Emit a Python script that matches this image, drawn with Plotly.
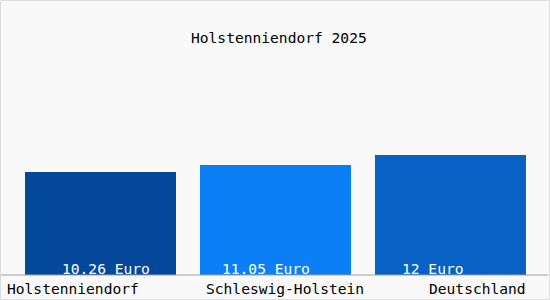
import plotly.graph_objects as go

# ---- data ----
categories = ["Holstenniendorf", "Schleswig-Holstein", "Deutschland"]
values = [10.26, 11.05, 12.0]
value_labels = ["10.26 Euro", "11.05 Euro", "12 Euro"]
title_text = "Holstenniendorf 2025"
bar_colors = ["#03489a", "#0b7ff5", "#0862c6"]

W, H = 550, 300
FONT = "DejaVu Sans Mono"
FS = 14.6

# pixel-based layout helpers
x_center0 = 100.5   # px centre of first bar
slot = 175.0        # px between bars
base_px = 275.0     # px y of value 0
px_per_unit = 10.0

def xdata(px):
    return (px - x_center0) / slot

def ydata(py):
    return (base_px - py) / px_per_unit

xs = list(range(len(categories)))

fig = go.Figure()
fig.add_trace(go.Bar(
    x=xs, y=values, width=151 / slot,
    marker=dict(color=bar_colors, line=dict(width=0)),
    hoverinfo="skip", showlegend=False,
))

ann = []
# title
ann.append(dict(x=279 / W, xref="paper", y=ydata(37), yref="y", text=title_text,
                showarrow=False, xanchor="center", yanchor="middle",
                font=dict(family=FONT, size=FS, color="#000000")))
# value labels inside bars (left edge offset in px from bar centre)
label_shift_px = [-40.5, -55.5, -50.5]
for i, t in enumerate(value_labels):
    ann.append(dict(x=i + label_shift_px[i] / slot, xref="x", y=ydata(268), yref="y",
                    text=t, showarrow=False, xanchor="left", yanchor="middle",
                    font=dict(family=FONT, size=FS, color="#ffffff")))
# category labels
cat_pos = [(5, "left"), (204, "left"), (528, "right")]
for (px, anchor), c in zip(cat_pos, categories):
    ann.append(dict(x=px / W, xref="paper", y=ydata(288), yref="y", text=c,
                    showarrow=False, xanchor=anchor, yanchor="middle",
                    font=dict(family=FONT, size=FS, color="#000000")))

shapes = [
    dict(type="line", xref="paper", yref="y", x0=0, x1=548 / W, y0=0, y1=0,
         line=dict(color="#a0a0a0", width=1)),
    dict(type="rect", xref="paper", yref="paper", x0=0.5 / W, x1=1 - 0.5 / W,
         y0=0.5 / H, y1=1 - 0.5 / H, line=dict(color="#dcdcdc", width=1)),
]

fig.update_layout(
    width=W, height=H,
    margin=dict(l=0, r=0, t=0, b=0, pad=0),
    paper_bgcolor="#f9f9f9", plot_bgcolor="#f9f9f9",
    xaxis=dict(range=[xdata(0), xdata(W)], visible=False, fixedrange=True),
    yaxis=dict(range=[ydata(H), ydata(0)], visible=False, fixedrange=True),
    annotations=ann, shapes=shapes,
    bargap=0,
)

fig.write_html("out.html", config={"displayModeBar": False})
